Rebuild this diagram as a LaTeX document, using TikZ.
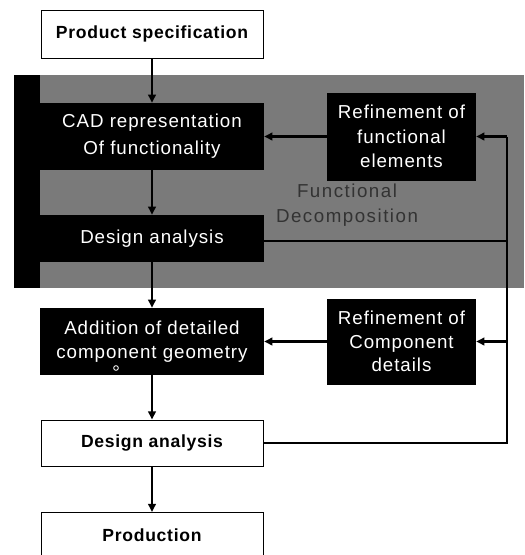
\documentclass[tikz,border=0pt]{standalone}
\usepackage{fontspec}
\setmainfont{Liberation Sans}
\usetikzlibrary{arrows.meta}
\begin{document}
\begin{tikzpicture}[x=0.03cm,y=-0.03cm,
  whitebox/.style={draw=black,line width=0.8pt,fill=white,text=black,font=\fontsize{15}{18}\selectfont\bfseries\addfontfeature{LetterSpace=4},align=center,inner sep=0pt},
  darkbox/.style={fill=black,text=white,font=\fontsize{16}{20}\selectfont\addfontfeature{LetterSpace=5},align=center,inner sep=0pt},
  conn/.style={line width=2pt,draw=black},
  arr/.style={conn,-{Triangle[length=7pt,width=6.5pt]}}]
\useasboundingbox (0,0) rectangle (524,555);
\clip (0,0) rectangle (524,555);
% gray panel
\fill[black!52] (40,75) rectangle (524,288);
\fill[black] (14,75) rectangle (40,288);
% nodes
\node[whitebox,minimum width=222*0.03cm,minimum height=48*0.03cm] (spec) at (152,34) {Product specification};
\node[darkbox,minimum width=224*0.03cm,minimum height=67*0.03cm,font=\fontsize{16}{23}\selectfont\addfontfeature{LetterSpace=5}] (cad) at (152,136.5) {CAD representation\\Of functionality};
\node[darkbox,minimum width=149*0.03cm,minimum height=88*0.03cm,font=\fontsize{16}{21}\selectfont\addfontfeature{LetterSpace=5}] (ref1) at (401.5,136.5) {Refinement of\\functional\\elements};
\node[text=black!80,font=\fontsize{16}{21}\selectfont\addfontfeature{LetterSpace=8},align=center,inner sep=0pt] (fd) at (347,205) {Functional\\Decomposition};
\node[darkbox,minimum width=224*0.03cm,minimum height=47*0.03cm] (da1) at (152,238.5) {Design analysis};
\node[darkbox,minimum width=224*0.03cm,minimum height=67*0.03cm] (add) at (152,341.5) {Addition of detailed\\component geometry};
\node[draw=white,circle,inner sep=0pt,minimum size=4pt,line width=0.7pt] (dot) at (116,368) {};
\node[darkbox,minimum width=149*0.03cm,minimum height=86*0.03cm] (ref2) at (401.5,341.5) {Refinement of\\Component\\details};
\node[whitebox,minimum width=222*0.03cm,minimum height=46*0.03cm] (da2) at (152,443) {Design analysis};
\node[whitebox,minimum width=222*0.03cm,minimum height=80*0.03cm,anchor=north] (prod) at (152,512) {};
\node[font=\fontsize{15}{18}\selectfont\bfseries\addfontfeature{LetterSpace=4},inner sep=0pt] (prodt) at (152,535) {Production};
\coordinate (rt) at (507,136.5);
\coordinate (rb) at (507,341.5);
% connectors
\draw[arr] (spec) -- (cad);
\draw[arr] (cad) -- (da1);
\draw[arr] (da1) -- (add);
\draw[arr] (add) -- (da2);
\draw[arr] (da2) -- (prod);
\draw[arr] (ref1) -- (cad);
\draw[arr] (ref2) -- (add);
\draw[conn] (da2.east) -| (rt);
\draw[arr] (rt) -- (ref1.east);
\draw[arr] (rb) -- (ref2.east);
\draw[conn] (da1.east |- 0,241) -- (507,241);
\end{tikzpicture}
\end{document}
